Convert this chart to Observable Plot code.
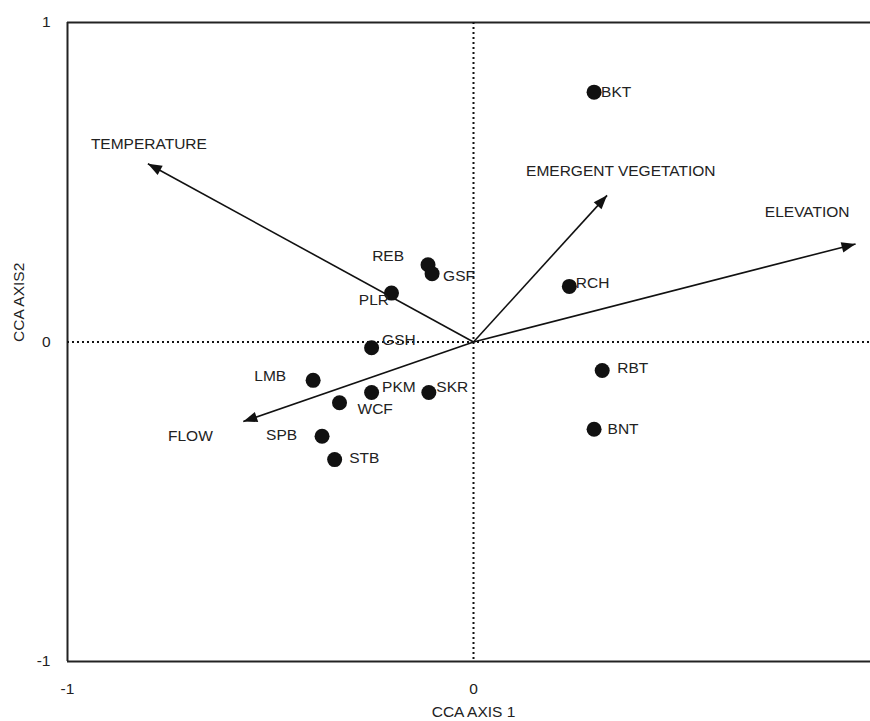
<!DOCTYPE html>
<html>
<head>
<meta charset="utf-8">
<script src="https://cdn.jsdelivr.net/npm/d3@7"></script>
<script src="https://cdn.jsdelivr.net/npm/@observablehq/plot@0.6"></script>
<style>
  html, body { margin: 0; padding: 0; background: white; overflow: hidden; }
  #chart svg { overflow: hidden; display: block; }
  #chart svg text { font-size: 15.5px; }
</style>
</head>
<body>
<div id="chart"></div>
<script>
// ---- Data ----
const speciesNames = ["BKT", "RCH", "RBT", "BNT", "REB", "GSF", "PLR", "GSH", "LMB", "PKM", "SKR", "WCF", "SPB", "STB"];
const speciesAxis1 = [0.297, 0.236, 0.317, 0.297, -0.112, -0.102, -0.202, -0.251, -0.395, -0.251, -0.110, -0.330, -0.373, -0.342];
const speciesAxis2 = [0.782, 0.174, -0.089, -0.273, 0.242, 0.214, 0.153, -0.018, -0.120, -0.158, -0.158, -0.190, -0.295, -0.368];

const vectorNames = ["TEMPERATURE", "EMERGENT VEGETATION", "ELEVATION", "FLOW"];
const vectorAxis1 = [-0.802, 0.329, 0.941, -0.567];
const vectorAxis2 = [0.558, 0.459, 0.307, -0.249];

const xTicks = [-1, 0];
const xTickLabels = ["-1", "0"];
const yTicks = [-1, 0, 1];
const yTickLabels = ["-1", "0", "1"];
const xTitle = "CCA AXIS 1";
const yTitle = "CCA AXIS2";

// ---- Label placement (pixel offsets, styling only) ----
const speciesLabelStyle = [
  {anchor: "start", dx: 7, dy: 0},    // BKT
  {anchor: "start", dx: 6.5, dy: -3}, // RCH
  {anchor: "start", dx: 15, dy: -2},  // RBT
  {anchor: "start", dx: 13.5, dy: 0}, // BNT
  {anchor: "end", dx: -24, dy: -9},   // REB
  {anchor: "start", dx: 11, dy: 2},   // GSF
  {anchor: "end", dx: -2.5, dy: 7},   // PLR
  {anchor: "start", dx: 10.5, dy: -8},// GSH
  {anchor: "end", dx: -27, dy: -4.5}, // LMB
  {anchor: "start", dx: 10.5, dy: -5.5}, // PKM
  {anchor: "start", dx: 7.5, dy: -5.5},  // SKR
  {anchor: "start", dx: 18, dy: 6},   // WCF
  {anchor: "end", dx: -25, dy: -1},   // SPB
  {anchor: "start", dx: 14.5, dy: -2} // STB
];
const vectorLabelStyle = [
  {anchor: "middle", dx: 1, dy: -20},
  {anchor: "start", dx: -81, dy: -24},
  {anchor: "end", dx: -6, dy: -31.5},
  {anchor: "end", dx: -30.5, dy: 14}
];

// ---- Scales / layout ----
const W = 870, H = 721;
const xRange = [67, 879];
const yRange = [661, 22];
const xDomain = [-1, 1];
const yDomain = [-1, 1];
const kx = (xRange[1] - xRange[0]) / (xDomain[1] - xDomain[0]);
const ky = (yRange[0] - yRange[1]) / (yDomain[1] - yDomain[0]);

const species = speciesNames.map((n, i) => ({name: n, a1: speciesAxis1[i], a2: speciesAxis2[i]}));
const vectors = vectorNames.map((n, i) => ({name: n, a1: vectorAxis1[i], a2: vectorAxis2[i]}));

// Filled arrowhead symbol whose tip sits at the point, oriented along the vector in screen space
function headSymbol(angle) {
  const L = 14, Wd = 10.5;
  const c = Math.cos(angle), s = Math.sin(angle);
  const pts = [[0, 0], [-Wd / 2, L], [Wd / 2, L]].map(([x, y]) => [x * c - y * s, x * s + y * c]);
  return {
    draw(ctx) {
      ctx.moveTo(pts[0][0], pts[0][1]);
      ctx.lineTo(pts[1][0], pts[1][1]);
      ctx.lineTo(pts[2][0], pts[2][1]);
      ctx.closePath();
    }
  };
}

const textFill = "#222";
const fontSize = 15.5;

const marks = [
  // frame: top, left, bottom
  Plot.ruleY([yDomain[1], yDomain[0]], {stroke: "#222", strokeWidth: 2}),
  Plot.ruleX([xDomain[0]], {stroke: "#222", strokeWidth: 2}),
  // dotted zero lines
  Plot.ruleX([0], {stroke: "#111", strokeWidth: 2, strokeDasharray: "2,3"}),
  Plot.ruleY([0], {stroke: "#111", strokeWidth: 2, strokeDasharray: "2,3"}),
  // vector shafts
  Plot.link(vectors, {x1: () => 0, y1: () => 0, x2: "a1", y2: "a2", stroke: "#111", strokeWidth: 1.6}),
  // arrow heads
  ...vectors.map(v => Plot.dot([v], {
    x: "a1", y: "a2", r: 5, fill: "#111", stroke: "none",
    symbol: headSymbol(Math.atan2(v.a1 * kx, v.a2 * ky))
  })),
  // vector labels
  ...vectors.map((v, i) => Plot.text([v], {
    x: "a1", y: "a2", text: "name",
    textAnchor: vectorLabelStyle[i].anchor, dx: vectorLabelStyle[i].dx, dy: vectorLabelStyle[i].dy,
    fill: textFill, fontSize
  })),
  // species points
  Plot.dot(species, {x: "a1", y: "a2", r: 7.5, fill: "#111", stroke: "none"}),
  // species labels
  ...species.map((d, i) => Plot.text([d], {
    x: "a1", y: "a2", text: "name",
    textAnchor: speciesLabelStyle[i].anchor, dx: speciesLabelStyle[i].dx, dy: speciesLabelStyle[i].dy,
    fill: textFill, fontSize
  })),
  // axis titles
  Plot.text([0], {x: d => d, text: () => xTitle, frameAnchor: "bottom", dy: 55, fill: textFill, fontSize}),
  Plot.text([0], {y: d => d, text: () => yTitle, frameAnchor: "left", dx: -48, rotate: -90, fill: textFill, fontSize})
];

const chart = Plot.plot({
  width: W,
  height: H,
  marginLeft: 67,
  marginRight: 0,
  marginTop: 22,
  marginBottom: 60,
  x: {domain: xDomain, range: xRange, ticks: xTicks, tickFormat: d => xTickLabels[xTicks.indexOf(d)], tickSize: 0, tickPadding: 21, label: null},
  y: {domain: yDomain, range: yRange, ticks: yTicks, tickFormat: d => yTickLabels[yTicks.indexOf(d)], tickSize: 0, tickPadding: 17, label: null},
  style: {fontFamily: "'Liberation Sans', Arial, Helvetica, sans-serif", fontSize: fontSize + "px", color: textFill, background: "white", overflow: "hidden"},
  marks
});
document.getElementById("chart").appendChild(chart);
</script>
</body>
</html>
